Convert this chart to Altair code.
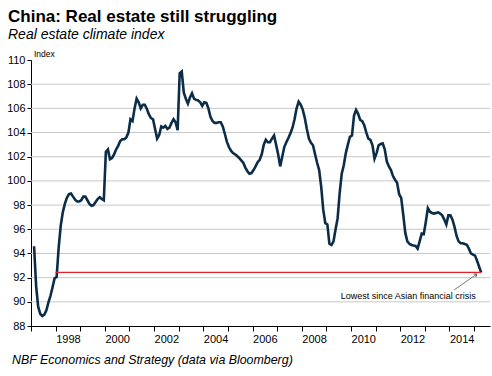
import altair as alt
import pandas as pd

# ---- Data: monthly Real estate climate index ----
v1997 = [94.6, 91.3, 89.6, 89.0, 88.83, 88.95, 89.3, 89.95, 90.5, 91.2, 91.95]  # Feb-Dec
v1998 = [92.05, 94.5, 96.3, 97.4, 98.1, 98.6, 98.9, 98.95, 98.7, 98.45, 98.3, 98.3]
v1999 = [98.4, 98.7, 98.7, 98.4, 98.1, 97.95, 98.0, 98.25, 98.5, 98.65, 98.5, 98.4]
v2000 = [102.4, 102.6, 101.8, 101.9, 102.2, 102.6, 102.9, 103.3, 103.45, 103.45, 103.6, 104.0]
v2001 = [105.1, 104.95, 106.0, 106.8, 106.5, 106.0, 106.3, 106.3, 105.95, 105.5, 105.2, 105.1]
v2002 = [104.3, 103.5, 103.8, 104.5, 104.4, 104.55, 104.3, 104.4, 104.8, 105.1, 104.85, 104.2]
v2003 = [108.9, 109.05, 107.3, 106.8, 106.4, 106.9, 107.25, 106.8, 106.7, 106.65, 106.5, 106.2]
v2004 = [106.5, 106.45, 106.0, 105.3, 104.95, 104.8, 104.8, 104.85, 104.85, 104.5, 103.9, 103.25]
v2005 = [102.8, 102.5, 102.3, 102.2, 102.06, 101.9, 101.7, 101.5, 101.1, 100.8, 100.6, 100.65]
v2006 = [100.9, 101.2, 101.55, 101.75, 102.2, 103.0, 103.4, 103.2, 103.2, 103.5, 103.75, 103.0]
v2007 = [102.2, 101.2, 102.0, 102.8, 103.2, 103.55, 103.95, 104.4, 105.1, 106.0, 106.55, 106.3]
v2008 = [105.9, 105.2, 104.3, 103.5, 103.15, 102.95, 102.2, 101.5, 100.9, 99.5, 97.6, 96.5]
v2009 = [96.4, 94.8, 94.7, 95.0, 96.0, 96.9, 99.0, 100.6, 101.3, 102.3, 103.0, 103.65]
v2010 = [103.75, 105.4, 105.87, 105.55, 105.05, 104.95, 104.6, 104.0, 103.5, 103.4, 102.95, 101.85]
v2011 = [102.3, 102.95, 103.05, 103.1, 102.6, 101.6, 101.2, 100.9, 100.4, 100.1, 99.85, 98.9]
v2012 = [98.6, 97.2, 95.7, 95.0, 94.8, 94.7, 94.65, 94.62, 94.4, 95.0, 95.65, 95.6]
v2013 = [96.6, 97.75, 97.45, 97.35, 97.3, 97.35, 97.4, 97.3, 97.15, 96.8, 96.4, 97.15]
v2014 = [97.15, 96.8, 96.2, 95.45, 95.0, 94.85, 94.85, 94.78, 94.72, 94.4, 94.0, 93.9]
v2015 = [93.82, 93.4, 92.9, 92.43]  # Jan-Apr

series = [
    (1997, 2, v1997), (1998, 1, v1998), (1999, 1, v1999), (2000, 1, v2000),
    (2001, 1, v2001), (2002, 1, v2002), (2003, 1, v2003), (2004, 1, v2004),
    (2005, 1, v2005), (2006, 1, v2006), (2007, 1, v2007), (2008, 1, v2008),
    (2009, 1, v2009), (2010, 1, v2010), (2011, 1, v2011), (2012, 1, v2012),
    (2013, 1, v2013), (2014, 1, v2014), (2015, 1, v2015),
]

rows = []
for yr, m0, vals in series:
    for i, v in enumerate(vals):
        rows.append({"t": yr + (m0 + i - 0.5) / 12.0, "v": v})
df = pd.DataFrame(rows)

title_text = "China: Real estate still struggling"
subtitle_text = "Real estate climate index"
source_text = "NBF Economics and Strategy (data via Bloomberg)"
unit_text = "Index"
note_text = "Lowest since Asian financial crisis"

low_value = 92.43
low_start = 1998.0
low_end = float(df["t"].iloc[-1])

arrow_tail = (2014.19, 90.98)
arrow_head = (2015.12, 92.30)
note_pos = (2015.07, 90.2)

year_ticks = list(range(1997, 2016))
y_ticks = list(range(88, 111, 2))
grid_values = list(range(90, 109, 2))

FONT = "Liberation Sans"
X_DOMAIN = [1997, 2015.65]
Y_DOMAIN = [88, 110]

xscale = alt.Scale(domain=X_DOMAIN, nice=False, zero=False)
yscale = alt.Scale(domain=Y_DOMAIN, nice=False, zero=False)

xaxis = alt.Axis(
    values=year_ticks, title=None, grid=False,
    labelExpr="datum.value % 2 == 0 ? '' + datum.value : ''",
    labelOffset=12.3, labelFlush=False, labelOverlap=False,
    tickSize=5, tickColor="black", domainColor="black",
    labelFont=FONT, labelFontSize=11, labelColor="black", labelPadding=2,
)
yaxis = alt.Axis(
    values=y_ticks, title=None, grid=False,
    tickSize=4, tickColor="black", domainColor="black", labelOverlap=False,
    labelFont=FONT, labelFontSize=11, labelColor="black", labelPadding=2,
    format="d",
)


def X(field):
    return alt.X(field, type="quantitative", scale=xscale, axis=xaxis)


def Y(field):
    return alt.Y(field, type="quantitative", scale=yscale, axis=yaxis)


grid = alt.Chart(pd.DataFrame({"v": grid_values})).mark_rule(
    color="#c8c8c8", strokeWidth=1
).encode(y=Y("v"))

line = alt.Chart(df).mark_line(color="#0c2d48", strokeWidth=2.6).encode(
    x=X("t"), y=Y("v"),
)

red = alt.Chart(pd.DataFrame({"t": [low_start], "t2": [low_end], "v": [low_value]})).mark_rule(
    color="#e8202a", strokeWidth=1.2
).encode(x=X("t"), x2="t2:Q", y=Y("v"))

arrow = alt.Chart(pd.DataFrame({
    "t": [arrow_tail[0]], "t2": [arrow_head[0]], "v": [arrow_tail[1]], "v2": [arrow_head[1]]
})).mark_rule(color="#555555", strokeWidth=0.8).encode(x=X("t"), x2="t2:Q", y=Y("v"), y2="v2:Q")

head = alt.Chart(pd.DataFrame({"t": [arrow_head[0]], "v": [arrow_head[1]]})).mark_point(
    shape="M -0.6 0.9 L 0 0 L 0.6 0.9", filled=False, size=40, angle=55,
    color="#555555", strokeWidth=0.9, opacity=1
).encode(x=X("t"), y=Y("v"))

note = alt.Chart(pd.DataFrame({"t": [note_pos[0]], "v": [note_pos[1]], "label": [note_text]})).mark_text(
    align="right", baseline="alphabetic", font=FONT, fontSize=9, color="black"
).encode(x=X("t"), y=Y("v"), text="label:N")


def label(txt, px, py, size, weight="normal", style="normal", align="left"):
    return alt.Chart(pd.DataFrame({"label": [txt]})).mark_text(
        align=align, baseline="alphabetic", font=FONT, fontSize=size,
        fontWeight=weight, fontStyle=style, color="black"
    ).encode(text="label:N", x=alt.value(px), y=alt.value(py))


title = label(title_text, -23, -38.3, 17, weight="bold")
subtitle = label(subtitle_text, -23, -21, 14, style="italic")
unit = label(unit_text, 3, -3.5, 8.5)
source = label(source_text, -19, 303.5, 12.4, style="italic")

chart = alt.layer(grid, line, red, arrow, head, note, title, subtitle, unit, source).properties(
    width=459, height=266,
    autosize=alt.AutoSizeParams(type="none"),
    padding={"left": 31, "top": 60, "right": 2, "bottom": 50},
    background="white",
).configure_view(stroke=None)

chart.save("out.html", embed_options={"renderer": "svg", "actions": False})
